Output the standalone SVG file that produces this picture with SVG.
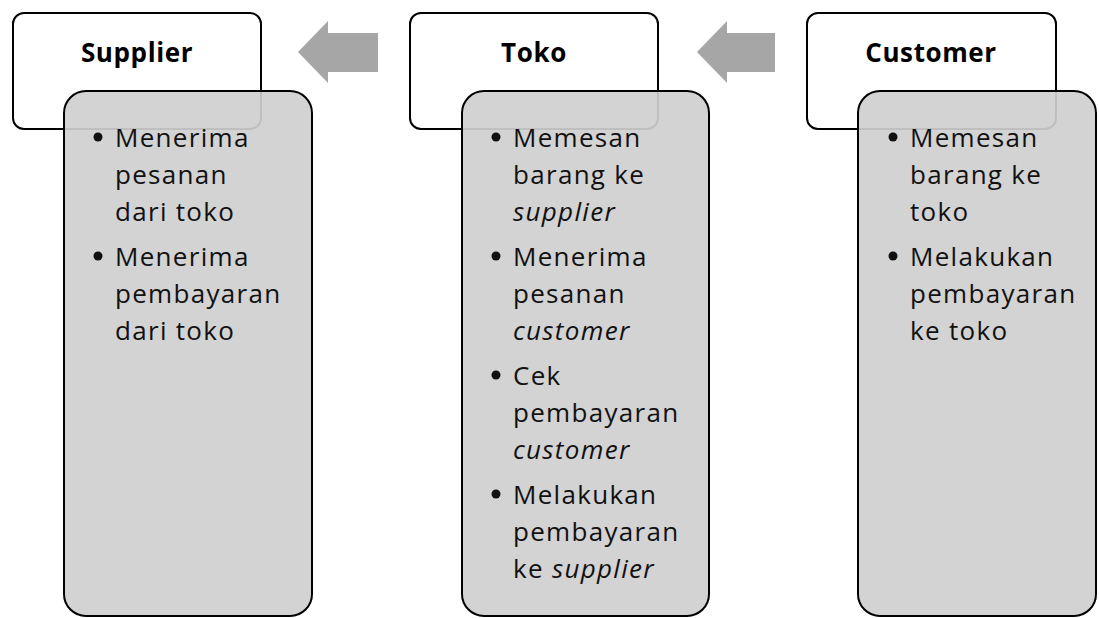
<svg xmlns="http://www.w3.org/2000/svg" width="1099" height="618" viewBox="0 0 1099 618">
<style>
.hdr{fill:#fff;stroke:#000;stroke-width:2}
.body{fill:#cfcfcf;fill-opacity:0.92;stroke:#000;stroke-width:2}
.arr{fill:#a6a6a6}
.ht{font-family:"Open Sans",Lato,sans-serif;font-weight:bold;font-size:26px;letter-spacing:0.6px;fill:#000;text-anchor:middle}
.bt{font-family:"Open Sans",Lato,sans-serif;font-size:26px;letter-spacing:1.3px;fill:#111}
.i{font-style:italic}
.dot{fill:#111}
</style>
<g id="connectors">
<polygon class="arr" points="298,52 328,21 328,33 378,33 378,72 328,72 328,83"/>
<polygon class="arr" points="697,52 727,21 727,33 775,33 775,72 727,72 727,83"/>
</g>
<g id="supplier">
<rect class="hdr" x="13" y="13" width="248" height="116" rx="11"/>
<text class="ht" x="137" y="62">Supplier</text>
<rect class="body" x="64" y="91" width="248" height="525" rx="22"/>
<circle class="dot" cx="98" cy="137" r="4.5"/>
<circle class="dot" cx="98" cy="256" r="4.5"/>
<text class="bt"><tspan x="115" y="147">Menerima</tspan><tspan x="115" y="184">pesanan</tspan><tspan x="115" y="221">dari toko</tspan><tspan x="115" y="266">Menerima</tspan><tspan x="115" y="303">pembayaran</tspan><tspan x="115" y="340">dari toko</tspan></text>
</g>
<g id="toko">
<rect class="hdr" x="410" y="13" width="248" height="116" rx="11"/>
<text class="ht" x="534" y="62">Toko</text>
<rect class="body" x="462" y="91" width="247" height="525" rx="22"/>
<circle class="dot" cx="496" cy="137" r="4.5"/>
<circle class="dot" cx="496" cy="256" r="4.5"/>
<circle class="dot" cx="496" cy="375" r="4.5"/>
<circle class="dot" cx="496" cy="494" r="4.5"/>
<text class="bt"><tspan x="513" y="147">Memesan</tspan><tspan x="513" y="184">barang ke</tspan><tspan x="513" y="221" class="i">supplier</tspan><tspan x="513" y="266">Menerima</tspan><tspan x="513" y="303">pesanan</tspan><tspan x="513" y="340" class="i">customer</tspan><tspan x="513" y="385">Cek</tspan><tspan x="513" y="422">pembayaran</tspan><tspan x="513" y="459" class="i">customer</tspan><tspan x="513" y="504">Melakukan</tspan><tspan x="513" y="541">pembayaran</tspan><tspan x="513" y="578">ke </tspan><tspan class="i">supplier</tspan></text>
</g>
<g id="customer">
<rect class="hdr" x="807" y="13" width="249" height="116" rx="11"/>
<text class="ht" x="931" y="62">Customer</text>
<rect class="body" x="858" y="91" width="238" height="525" rx="22"/>
<circle class="dot" cx="893" cy="137" r="4.5"/>
<circle class="dot" cx="893" cy="256" r="4.5"/>
<text class="bt"><tspan x="910" y="147">Memesan</tspan><tspan x="910" y="184">barang ke</tspan><tspan x="910" y="221">toko</tspan><tspan x="910" y="266">Melakukan</tspan><tspan x="910" y="303">pembayaran</tspan><tspan x="910" y="340">ke toko</tspan></text>
</g>
</svg>
